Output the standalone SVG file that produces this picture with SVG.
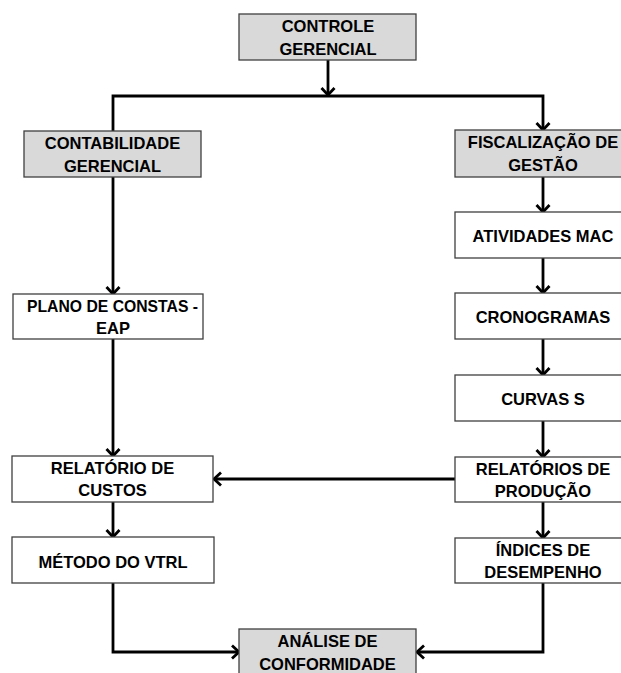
<svg xmlns="http://www.w3.org/2000/svg" width="621" height="673" viewBox="0 0 621 673">
  <style>
    .box { fill: #ffffff; stroke: #3f3f3f; stroke-width: 1.3; }
    .hl { fill: #d9d9d9; }
    .lbl { font-family: "Liberation Sans", Arial, sans-serif; font-weight: bold; font-size: 16.5px; fill: #000000; text-anchor: middle; }
    .wire { fill: none; stroke: #000000; stroke-width: 2.8; }
  </style>
  <defs>
    <marker id="chev" markerUnits="userSpaceOnUse" markerWidth="16" markerHeight="16" viewBox="-10 -8 12 16" refX="0" refY="0" orient="auto">
      <path d="M-7,-6.5 L0,0 L-7,6.5" fill="none" stroke="#000000" stroke-width="2.8"/>
    </marker>
  </defs>
  <rect width="621" height="673" fill="#ffffff"/>

  <g id="connectors">
    <line class="wire" x1="328" y1="60" x2="328" y2="95" marker-end="url(#chev)"/>
    <polyline class="wire" points="113,131 113,96 543,96 543,130" marker-end="url(#chev)"/>
    <line class="wire" x1="113" y1="177" x2="113" y2="294" marker-end="url(#chev)"/>
    <line class="wire" x1="113" y1="339" x2="113" y2="456" marker-end="url(#chev)"/>
    <line class="wire" x1="113" y1="502" x2="113" y2="537" marker-end="url(#chev)"/>
    <line class="wire" x1="543" y1="177" x2="543" y2="212" marker-end="url(#chev)"/>
    <line class="wire" x1="543" y1="258" x2="543" y2="293" marker-end="url(#chev)"/>
    <line class="wire" x1="543" y1="339" x2="543" y2="375" marker-end="url(#chev)"/>
    <line class="wire" x1="543" y1="421" x2="543" y2="457" marker-end="url(#chev)"/>
    <line class="wire" x1="543" y1="502" x2="543" y2="538" marker-end="url(#chev)"/>
    <line class="wire" x1="455" y1="479" x2="214" y2="479" marker-end="url(#chev)"/>
    <polyline class="wire" points="113,583 113,652 239,652" marker-end="url(#chev)"/>
    <polyline class="wire" points="543,583 543,652 417,652" marker-end="url(#chev)"/>
  </g>

  <g id="controle-gerencial">
    <rect class="box hl" x="239" y="14" width="177" height="46"/>
    <text class="lbl" x="328" y="32">CONTROLE</text>
    <text class="lbl" x="328" y="54.5">GERENCIAL</text>
  </g>

  <g id="contabilidade-gerencial">
    <rect class="box hl" x="24" y="131" width="177" height="46"/>
    <text class="lbl" x="112.5" y="149">CONTABILIDADE</text>
    <text class="lbl" x="112.5" y="171.5">GERENCIAL</text>
  </g>

  <g id="fiscalizacao-gestao">
    <rect class="box hl" x="455" y="130" width="177" height="47"/>
    <text class="lbl" x="543" y="148">FISCALIZAÇÃO DE</text>
    <text class="lbl" x="543" y="170.5">GESTÃO</text>
  </g>

  <g id="atividades-mac">
    <rect class="box" x="455" y="212" width="177" height="46"/>
    <text class="lbl" x="543" y="242">ATIVIDADES MAC</text>
  </g>

  <g id="cronogramas">
    <rect class="box" x="455" y="293" width="177" height="46"/>
    <text class="lbl" x="543" y="323">CRONOGRAMAS</text>
  </g>

  <g id="curvas-s">
    <rect class="box" x="455" y="375" width="177" height="46"/>
    <text class="lbl" x="543" y="405">CURVAS S</text>
  </g>

  <g id="relatorios-producao">
    <rect class="box" x="455" y="457" width="177" height="45"/>
    <text class="lbl" x="543" y="474.5">RELATÓRIOS DE</text>
    <text class="lbl" x="543" y="497">PRODUÇÃO</text>
  </g>

  <g id="indices-desempenho">
    <rect class="box" x="455" y="538" width="177" height="45"/>
    <text class="lbl" x="543" y="555.5">ÍNDICES DE</text>
    <text class="lbl" x="543" y="578">DESEMPENHO</text>
  </g>

  <g id="plano-contas">
    <rect class="box" x="13" y="294" width="190" height="45"/>
    <text class="lbl" x="112.5" y="311.5" textLength="171" lengthAdjust="spacingAndGlyphs">PLANO DE CONSTAS -</text>
    <text class="lbl" x="113" y="334">EAP</text>
  </g>

  <g id="relatorio-custos">
    <rect class="box" x="12" y="456" width="201" height="46"/>
    <text class="lbl" x="112.5" y="473.5">RELATÓRIO DE</text>
    <text class="lbl" x="112.5" y="496">CUSTOS</text>
  </g>

  <g id="metodo-vtrl">
    <rect class="box" x="12" y="537" width="202" height="46"/>
    <text class="lbl" x="113" y="567.5">MÉTODO DO VTRL</text>
  </g>

  <g id="analise-conformidade">
    <rect class="box hl" x="239" y="629" width="177" height="46"/>
    <text class="lbl" x="327.5" y="647">ANÁLISE DE</text>
    <text class="lbl" x="327.5" y="669.5">CONFORMIDADE</text>
  </g>
</svg>
